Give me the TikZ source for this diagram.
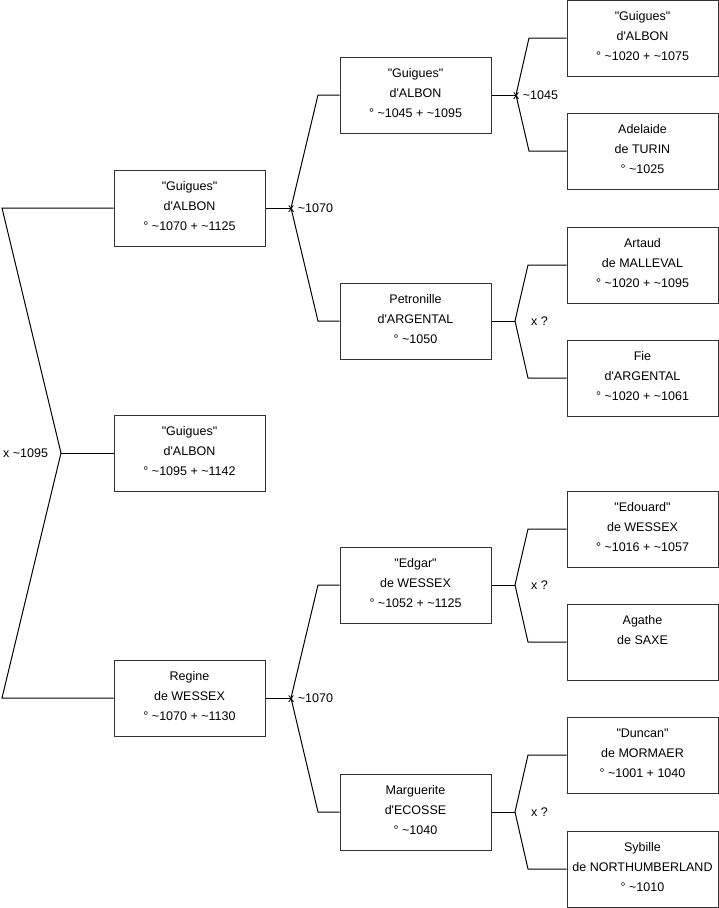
\documentclass[tikz,border=0pt]{standalone}
\usepackage{fontspec}
\setmainfont{Liberation Sans}[Ligatures=TeXOff]
\usepackage{tikz}
\usetikzlibrary{calc}
\newcommand{\apx}{\textasciitilde}
\begin{document}
\begin{tikzpicture}[x=1pt,y=-1pt,
		person/.style={draw=black!80,line width=1pt,rectangle,minimum width=151pt,minimum height=76pt,inner sep=0pt,align=center,font=\fontsize{12.5}{20}\selectfont,execute at end node={\rule[-4pt]{0pt}{0pt}}},
		link/.style={black,line width=1pt},
		union/.style={anchor=west,inner sep=0pt,font=\fontsize{12.5}{14}\selectfont}]
		\useasboundingbox (0,0) rectangle (719,908);
		\node[person] (g1095) at (189.5,453) {"Guigues"\\d'ALBON\\° \apx1095 + \apx1142};
		\node[person] (g1070) at (189.5,208) {"Guigues"\\d'ALBON\\° \apx1070 + \apx1125};
		\node[person] (regine) at (189.5,698) {Regine\\de WESSEX\\° \apx1070 + \apx1130};
		\node[person] (g1045) at (415.5,95) {"Guigues"\\d'ALBON\\° \apx1045 + \apx1095};
		\node[person] (petronille) at (415.5,321) {Petronille\\d'ARGENTAL\\° \apx1050};
		\node[person] (edgar) at (415.5,585) {"Edgar"\\de WESSEX\\° \apx1052 + \apx1125};
		\node[person] (marguerite) at (415.5,812) {Marguerite\\d'ECOSSE\\° \apx1040};
		\node[person] (g1020) at (642.5,38) {"Guigues"\\d'ALBON\\° \apx1020 + \apx1075};
		\node[person] (adelaide) at (642.5,151) {Adelaide\\de TURIN\\° \apx1025};
		\node[person] (artaud) at (642.5,265) {Artaud\\de MALLEVAL\\° \apx1020 + \apx1095};
		\node[person] (fie) at (642.5,378) {Fie\\d'ARGENTAL\\° \apx1020 + \apx1061};
		\node[person] (edouard) at (642.5,529) {"Edouard"\\de WESSEX\\° \apx1016 + \apx1057};
		\node[person] (agathe) at (642.5,642) {Agathe\\de SAXE\\\mbox{}};
		\node[person] (duncan) at (642.5,755) {"Duncan"\\de MORMAER\\° \apx1001 + 1040};
		\node[person] (sybille) at (642.5,869) {Sybille\\de NORTHUMBERLAND\\° \apx1010};
		\coordinate (m0) at (61,453);
		\coordinate (m0a) at (2,208);
		\coordinate (m0b) at (2,698);
		\coordinate (m1) at (291,208);
		\coordinate (m1a) at (318,95);
		\coordinate (m1b) at (318,321);
		\coordinate (m2) at (291,698);
		\coordinate (m2a) at (318,585);
		\coordinate (m2b) at (318,812);
		\coordinate (m3) at (516,95);
		\coordinate (m3a) at (529,38);
		\coordinate (m3b) at (529,151);
		\coordinate (m4) at (515,321);
		\coordinate (m4a) at (528,265);
		\coordinate (m4b) at (528,378);
		\coordinate (m5) at (515,585);
		\coordinate (m5a) at (528,529);
		\coordinate (m5b) at (528,642);
		\coordinate (m6) at (515,812);
		\coordinate (m6a) at (528,755);
		\coordinate (m6b) at (528,869);
		\draw[link] (g1070.west) -- (m0a) -- (m0) -- (m0b) -- (regine.west);
		\draw[link] (m0) -- (g1095.west);
		\draw[link] (g1045.west) -- (m1a) -- (m1) -- (m1b) -- (petronille.west);
		\draw[link] (m1) -- (g1070.east);
		\draw[link] (edgar.west) -- (m2a) -- (m2) -- (m2b) -- (marguerite.west);
		\draw[link] (m2) -- (regine.east);
		\draw[link] (g1020.west) -- (m3a) -- (m3) -- (m3b) -- (adelaide.west);
		\draw[link] (m3) -- (g1045.east);
		\draw[link] (artaud.west) -- (m4a) -- (m4) -- (m4b) -- (fie.west);
		\draw[link] (m4) -- (petronille.east);
		\draw[link] (edouard.west) -- (m5a) -- (m5) -- (m5b) -- (agathe.west);
		\draw[link] (m5) -- (edgar.east);
		\draw[link] (duncan.west) -- (m6a) -- (m6) -- (m6b) -- (sybille.west);
		\draw[link] (m6) -- (marguerite.east);
		\node[union] (u0) at (3,453) {x \apx1095};
		\node[union] (u1) at ($(m1)+(-3,0)$) {x \apx1070};
		\node[union] (u2) at ($(m2)+(-3,0)$) {x \apx1070};
		\node[union] (u3) at ($(m3)+(-3,0)$) {x \apx1045};
		\node[union] (u4) at (531,321) {x ?};
		\node[union] (u5) at (531,585) {x ?};
		\node[union] (u6) at (531,812) {x ?};
	\end{tikzpicture}
\end{document}
